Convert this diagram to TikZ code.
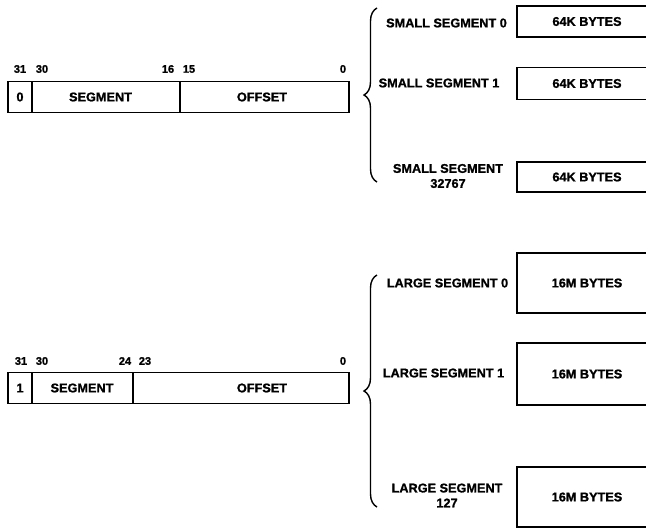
\documentclass[tikz,border=0pt]{standalone}
\usepackage{fontspec}
\setmainfont{Liberation Sans}
\newfontfamily\heavyfont{Liberation Sans Bold}[FakeBold=1.2]
\usetikzlibrary{decorations.pathreplacing}

\begin{document}
\begin{tikzpicture}[
  x=1pt, y=-1pt,
  font=\fontsize{12.7}{15}\selectfont\heavyfont,
  cell/.style={draw, line width=1.6pt, minimum height=31pt, inner sep=0pt},
  bit/.style={font=\fontsize{11}{13}\selectfont\heavyfont, inner sep=0pt},
  txt/.style={inner sep=0pt, align=center},
  seg/.style={draw, line width=1.6pt, minimum width=140pt, inner sep=0pt},
  brc/.style={decorate, decoration={brace, amplitude=13pt}, line width=1.4pt},
]
\useasboundingbox (0,0) rectangle (646,528);
\clip (0,0) rectangle (646,528);

% small segment selector
\node[cell, minimum width=24pt] (sflag) at (20,97) {0};
\node[cell, minimum width=148pt] (sseg) at (106,97) {};
\node[cell, minimum width=169pt] (soff) at (264.5,97) {};
\node[txt] (ssegtxt) at (100.5,97) {SEGMENT};
\node[txt] (sofftxt) at (262,97) {OFFSET};
\node[bit] (s31) at (20,69) {31};
\node[bit] (s30) at (42,69) {30};
\node[bit] (s16) at (168,69) {16};
\node[bit] (s15) at (189,69) {15};
\node[bit] (s0) at (343,69) {0};

\coordinate (sbt) at (377,8);
\coordinate (sbb) at (377,182);
\draw[brc] (sbb) -- (sbt);

\node[txt] (sname0) at (446.5,23) {SMALL SEGMENT 0};
\node[txt] (sname1) at (439,83) {SMALL SEGMENT 1};
\node[txt] (sname2) at (448,176) {SMALL SEGMENT\\ 32767};
\node[seg, minimum height=31pt] (sbox0) at (587,21.5) {64K BYTES};
\node[seg, minimum height=32pt] (sbox1) at (587,83.5) {64K BYTES};
\node[seg, minimum height=30pt] (sbox2) at (587,177) {64K BYTES};

% large segment selector
\node[cell, minimum width=24pt] (lflag) at (20,388) {1};
\node[cell, minimum width=101pt] (lseg) at (82.5,388) {};
\node[cell, minimum width=216pt] (loff) at (241,388) {};
\node[txt] (lsegtxt) at (82,388) {SEGMENT};
\node[txt] (lofftxt) at (262,388) {OFFSET};
\node[bit] (l31) at (21,361) {31};
\node[bit] (l30) at (42,361) {30};
\node[bit] (l24) at (125,361) {24};
\node[bit] (l23) at (145,361) {23};
\node[bit] (l0) at (343,361) {0};

\coordinate (lbt) at (377,275);
\coordinate (lbb) at (377,507);
\draw[brc] (lbb) -- (lbt);

\node[txt] (lname0) at (447.5,283) {LARGE SEGMENT 0};
\node[txt] (lname1) at (443.5,373) {LARGE SEGMENT 1};
\node[txt] (lname2) at (447,495.5) {LARGE SEGMENT\\ 127};
\node[seg, minimum height=60pt] (lbox0) at (587,283) {16M BYTES};
\node[seg, minimum height=62pt] (lbox1) at (587,374) {16M BYTES};
\node[seg, minimum height=60pt] (lbox2) at (587,497) {16M BYTES};
\end{tikzpicture}
\end{document}
